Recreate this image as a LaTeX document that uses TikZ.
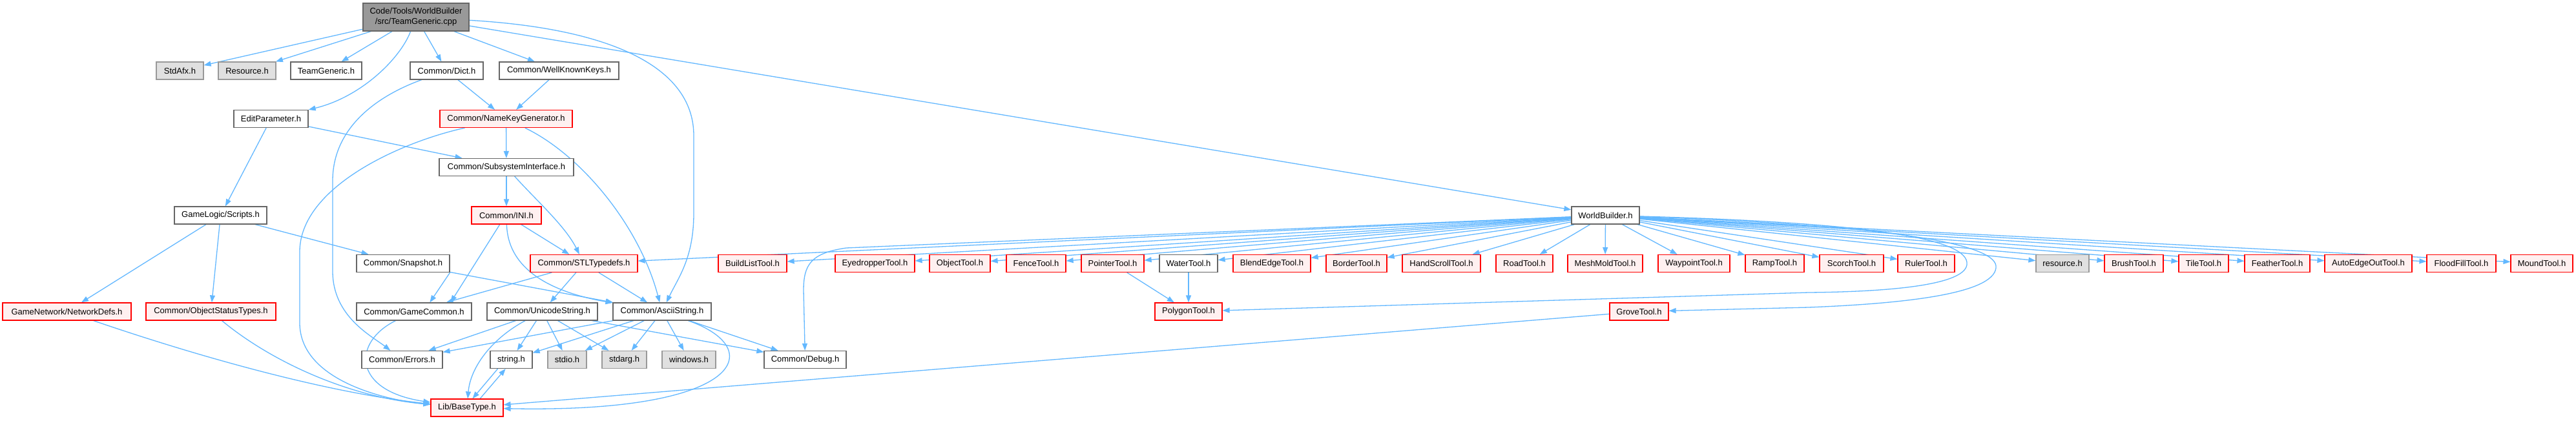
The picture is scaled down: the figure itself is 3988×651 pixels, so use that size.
\documentclass[tikz,border=0pt]{standalone}
\usepackage{fontspec}
\setmainfont{Liberation Sans}
\usetikzlibrary{arrows.meta,backgrounds}
\definecolor{edgeblue}{HTML}{63B8FF}
\definecolor{nodegray}{HTML}{666666}
\definecolor{sysborder}{HTML}{999999}
\definecolor{sysfill}{HTML}{E0E0E0}
\definecolor{mainfill}{HTML}{999999}
\definecolor{redfill}{HTML}{FFF0F0}
\definecolor{redborder}{HTML}{FF0000}
\begin{document}
\begin{tikzpicture}[x=1pt,y=-1pt,
 box/.style={rectangle, inner sep=0pt, minimum height=27pt, line width=1.2pt, font=\fontsize{13}{16}\selectfont, align=center},
 nwhite/.style={box, draw=nodegray, fill=white},
 nred/.style={box, draw=redborder, fill=redfill},
 nsys/.style={box, draw=sysborder, fill=sysfill},
 nmain/.style={box, draw=nodegray, fill=mainfill, minimum height=43pt},
 edge/.style={draw=edgeblue, line width=1.3pt, -{Triangle[length=11pt,width=8pt]}}
]
\useasboundingbox (0,0) rectangle (3988,651);
% row 1
\node[nmain, minimum width=164pt] (main) at (644,26.5) {Code/Tools/WorldBuilder\\/src/TeamGeneric.cpp};
% row 2
\node[nsys, minimum width=73pt] (stdafx) at (278.5,109.5) {StdAfx.h};
\node[nsys, minimum width=89pt] (resource) at (382.5,109.5) {Resource.h};
\node[nwhite, minimum width=110pt] (teamh) at (505,109.5) {TeamGeneric.h};
\node[nwhite, minimum width=113pt] (dict) at (691.5,109.5) {Common/Dict.h};
\node[nwhite, minimum width=185pt] (wkk) at (865.5,109.5) {Common/WellKnownKeys.h};
% row 3
\node[nwhite, minimum width=115pt] (editparam) at (419.5,184) {EditParameter.h};
\node[nred, minimum width=205pt] (nkg) at (783.5,184) {Common/NameKeyGenerator.h};
% row 4
\node[nwhite, minimum width=208pt] (subsys) at (784,259) {Common/SubsystemInterface.h};
% row 5
\node[nwhite, minimum width=143pt] (scripts) at (341.5,333.5) {GameLogic/Scripts.h};
\node[nred, minimum width=108pt] (ini) at (784,333.5) {Common/INI.h};
\node[nwhite, minimum width=105pt] (wb) at (2485.5,333.5) {WorldBuilder.h};
% row 6
\node[nwhite, minimum width=144pt] (snapshot) at (624,408) {Common/Snapshot.h};
\node[nred, minimum width=166pt] (stl) at (904,408) {Common/STLTypedefs.h};
\node[nred, minimum width=106pt] (buildlist) at (1165,408) {BuildListTool.h};
\node[nred, minimum width=123pt] (eyedrop) at (1354.5,408) {EyedropperTool.h};
\node[nred, minimum width=94pt] (objtool) at (1486,408) {ObjectTool.h};
\node[nred, minimum width=92pt] (fence) at (1604,408) {FenceTool.h};
\node[nred, minimum width=97pt] (pointer) at (1722.5,408) {PointerTool.h};
\node[nwhite, minimum width=90pt] (water) at (1840,408) {WaterTool.h};
\node[nred, minimum width=120pt] (blend) at (1969,408) {BlendEdgeTool.h};
\node[nred, minimum width=94pt] (border) at (2100,408) {BorderTool.h};
\node[nred, minimum width=121pt] (handscroll) at (2231.5,408) {HandScrollTool.h};
\node[nred, minimum width=88pt] (road) at (2360,408) {RoadTool.h};
\node[nred, minimum width=116pt] (meshmold) at (2485,408) {MeshMoldTool.h};
\node[nred, minimum width=111pt] (waypoint) at (2622.5,408) {WaypointTool.h};
\node[nred, minimum width=91pt] (ramp) at (2747.5,408) {RampTool.h};
\node[nred, minimum width=99pt] (scorch) at (2866.5,408) {ScorchTool.h};
\node[nred, minimum width=88pt] (ruler) at (2982,408) {RulerTool.h};
\node[nsys, minimum width=82pt] (resourcelc) at (3193,408) {resource.h};
\node[nred, minimum width=91pt] (brush) at (3303.5,408) {BrushTool.h};
\node[nred, minimum width=77pt] (tile) at (3411.5,408) {TileTool.h};
\node[nred, minimum width=101pt] (feather) at (3525.5,408) {FeatherTool.h};
\node[nred, minimum width=135pt] (autoedge) at (3666.5,408) {AutoEdgeOutTool.h};
\node[nred, minimum width=107pt] (floodfill) at (3810.5,408) {FloodFillTool.h};
\node[nred, minimum width=96pt] (mound) at (3935,408) {MoundTool.h};
% row 7
\node[nred, minimum width=199pt] (netdefs) at (103.5,482.5) {GameNetwork/NetworkDefs.h};
\node[nred, minimum width=201pt] (objstatus) at (326.5,482.5) {Common/ObjectStatusTypes.h};
\node[nwhite, minimum width=178pt] (gamecommon) at (641,482.5) {Common/GameCommon.h};
\node[nwhite, minimum width=171pt] (unicode) at (839.5,482.5) {Common/UnicodeString.h};
\node[nwhite, minimum width=152pt] (ascii) at (1025,482.5) {Common/AsciiString.h};
\node[nred, minimum width=104pt] (polygon) at (1840,482.5) {PolygonTool.h};
\node[nred, minimum width=91pt] (grove) at (2537.5,482.5) {GroveTool.h};
% row 8
\node[nwhite, minimum width=125pt] (errors) at (622.5,557) {Common/Errors.h};
\node[nwhite, minimum width=65pt] (stringh) at (791.5,557) {string.h};
\node[nsys, minimum width=60pt] (stdio) at (878,557) {stdio.h};
\node[nsys, minimum width=69pt] (stdarg) at (966.5,557) {stdarg.h};
\node[nsys, minimum width=83pt] (windows) at (1066.5,557) {windows.h};
\node[nwhite, minimum width=127pt] (debug) at (1246.5,557) {Common/Debug.h};
% row 9
\node[nred, minimum width=112pt] (basetype) at (723,631.5) {Lib/BaseType.h};

\begin{pgfonlayer}{background}
\fill[white] (0,0) rectangle (3988,651);
% from main
\draw[edge] (main) -- (stdafx);
\draw[edge] (main) -- (resource);
\draw[edge] (main) -- (teamh);
\draw[edge] (main) .. controls (620,90) and (560,150) .. (editparam);
\draw[edge] (main) -- (dict);
\draw[edge] (main) -- (wkk);
\draw[edge] (main) .. controls (960,45) and (1074,110) .. (1074,210) -- (1074,330) .. controls (1074,400) and (1050,430) .. (ascii);
\draw[edge] (main) -- (wb);
% editparam
\draw[edge] (editparam) -- (scripts);
\draw[edge] (editparam) -- (subsys);
% dict, wkk
\draw[edge] (dict) -- (nkg);
\draw[edge] (dict) .. controls (580,150) and (515,200) .. (515,280) -- (515,420) .. controls (515,490) and (575,520) .. (errors);
\draw[edge] (wkk) -- (nkg);
% nkg
\draw[edge] (nkg) -- (subsys);
\draw[edge] (nkg) .. controls (900,240) and (990,350) .. (ascii);
\draw[edge] (nkg) .. controls (620,220) and (464,290) .. (464,390) -- (464,500) .. controls (464,590) and (600,620) .. (basetype);
% subsys
\draw[edge] (subsys) -- (ini);
\draw[edge] (subsys) .. controls (830,310) and (875,350) .. (stl);
% ini
\draw[edge] (ini) -- (stl);
\draw[edge] (ini.234) -- (gamecommon.14);
\draw[edge] (ini) .. controls (786,410) and (840,450) .. (ascii);
% scripts
\draw[edge] (scripts) -- (netdefs);
\draw[edge] (scripts) -- (objstatus);
\draw[edge] (scripts) -- (snapshot);
% snapshot
\draw[edge] (snapshot.south east) -- (gamecommon.30);
\draw[edge] (snapshot) -- (ascii);
% stl
\draw[edge] (stl) -- (gamecommon);
\draw[edge] (stl) -- (unicode);
\draw[edge] (stl) -- (ascii);
% row 7 to basetype
\draw[edge] (gamecommon) .. controls (545,530) and (545,605) .. (basetype);
\draw[edge] (netdefs) .. controls (330,560) and (520,610) .. (basetype);
\draw[edge] (objstatus) .. controls (420,560) and (540,615) .. (basetype);
% unicode
\draw[edge] (unicode) -- (errors);
\draw[edge] (unicode) .. controls (760,525) and (728,570) .. (basetype);
\draw[edge] (unicode) -- (stringh);
\draw[edge] (unicode) -- (stdio);
\draw[edge] (unicode) -- (stdarg);
\draw[edge] (unicode) -- (debug);
% ascii
\draw[edge] (ascii) -- (errors);
\draw[edge] (ascii) -- (stringh);
\draw[edge] (ascii) -- (stdio);
\draw[edge] (ascii) -- (stdarg);
\draw[edge] (ascii) -- (windows);
\draw[edge] (ascii) -- (debug);
\draw[edge] (ascii) .. controls (1190,540) and (1150,640) .. (basetype);
% string <-> basetype
\draw[edge] (stringh.214) -- (basetype.59);
\draw[edge] (basetype.35) -- (stringh.238);
% WorldBuilder
\draw[edge] (wb) -- (stl);
\draw[edge] (wb) -- (buildlist);
\foreach \n in {eyedrop,objtool,fence,pointer,water,blend,border,handscroll,road,meshmold,waypoint,ramp,scorch,ruler,resourcelc,brush,tile,feather,autoedge,floodfill,mound}
  \draw[edge] (wb) -- (\n);
\draw[edge] (wb) -- (1310,384) .. controls (1255,392) and (1244,410) .. (1244,450) -- (debug);
\draw[edge] (wb) .. controls (2900,345) and (3050,370) .. (3045,410) .. controls (3040,445) and (2900,452) .. (2800,453) -- (polygon);
\draw[edge] (wb) .. controls (2950,350) and (3095,380) .. (3090,415) .. controls (3085,455) and (2950,470) .. (2800,476) -- (grove);
% polygon, grove
\draw[edge] (pointer) -- (polygon);
\draw[edge] (water) -- (polygon);
\draw[edge] (grove) -- (basetype);
\end{pgfonlayer}
\end{tikzpicture}
\end{document}
